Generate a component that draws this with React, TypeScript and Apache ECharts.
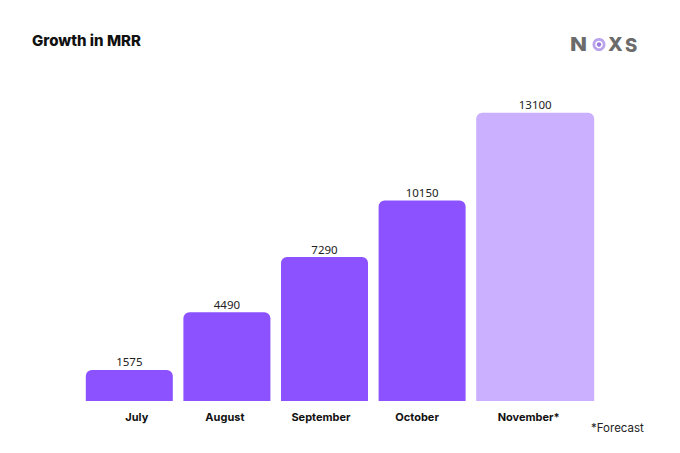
import React, { useEffect, useRef } from "react";
import * as echarts from "echarts";

const months = ["July", "August", "September", "October", "November*"];
const actualMRR = [1575, 4490, 7290, 10150, null];
const forecastMRR = [null, null, null, null, 13100];
const labelShift = [16, 35, 38, 41, 13];

export default function App() {
  const ref = useRef<HTMLDivElement>(null);
  useEffect(() => {
    if (!ref.current) return;
    const chart = echarts.init(ref.current, undefined, { renderer: "svg" });
    const rich: Record<string, any> = {};
    labelShift.forEach((p, i) => {
      rich["l" + i] = {
        fontFamily: "Inter",
        fontWeight: 700,
        fontSize: 11,
        color: "#111",
        padding: [0, p, 0, 0],
      };
    });
    const logoColor = "#6b6b6b";
    const valueLabel = {
      show: true,
      position: "top",
      distance: 2,
      fontFamily: "Noto Sans",
      fontSize: 11.5,
      color: "#222",
    };
    chart.setOption({
      animation: false,
      backgroundColor: "#ffffff",
      grid: { left: 96, right: 96, top: 60, bottom: 52 },
      xAxis: {
        type: "category",
        data: months,
        axisLine: { show: false },
        axisTick: { show: false },
        splitLine: { show: false },
        axisLabel: {
          interval: 0,
          margin: 10,
          formatter: (v: string, i: number) => `{l${i}|${v}}`,
          rich,
        },
      },
      yAxis: [
        { type: "value", min: 0, max: 17270, show: false, splitLine: { show: false } },
        { type: "value", min: 0, max: 15500, show: false, splitLine: { show: false } },
      ],
      series: [
        {
          type: "bar",
          name: "MRR",
          data: actualMRR,
          barWidth: 87,
          barGap: "-100%",
          clip: false,
          itemStyle: { color: "#8c52ff", borderRadius: [6, 6, 0, 0] },
          label: valueLabel,
        },
        {
          type: "bar",
          name: "Forecast",
          yAxisIndex: 1,
          data: forecastMRR,
          barWidth: 118,
          barGap: "-100%",
          clip: false,
          itemStyle: { color: "#cbb0ff", borderRadius: [6, 6, 0, 0] },
          label: valueLabel,
        },
      ],
      graphic: [
        {
          type: "text",
          left: 32,
          top: 33,
          style: {
            text: "Growth in MRR",
            fontFamily: "Inter",
            fontWeight: 800,
            fontSize: 15,
            fill: "#111",
          },
        },
        {
          type: "text",
          left: 591,
          top: 422,
          style: {
            text: "*Forecast",
            fontFamily: "Inter",
            fontSize: 11.5,
            fill: "#222",
          },
        },
        {
          type: "text",
          x: 570,
          y: 35,
          scaleX: 1.2,
          style: { text: "N", fontFamily: "Inter", fontWeight: 800, fontSize: 18.5, fill: logoColor },
        },
        {
          type: "ring",
          shape: { cx: 599, cy: 44.5, r: 6.5, r0: 3.8 },
          style: { fill: "#b9a3ec" },
        },
        {
          type: "circle",
          shape: { cx: 599, cy: 44.5, r: 2.2 },
          style: { fill: "#9b7be0" },
        },
        {
          type: "text",
          x: 608,
          y: 35,
          scaleX: 1.05,
          style: { text: "X", fontFamily: "Inter", fontWeight: 800, fontSize: 18.5, fill: logoColor },
        },
        {
          type: "text",
          x: 625,
          y: 35,
          style: { text: "S", fontFamily: "Inter", fontWeight: 800, fontSize: 18.5, fill: logoColor },
        },
      ],
    });
    return () => chart.dispose();
  }, []);
  return (
    <div
      ref={ref}
      style={{ position: "fixed", left: 0, top: 0, width: 680, height: 453 }}
    />
  );
}
